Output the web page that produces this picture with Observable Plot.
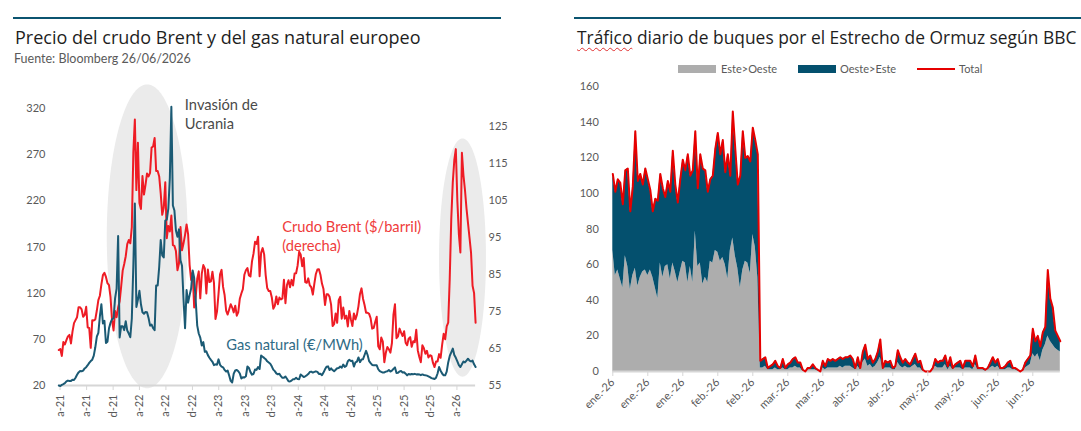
<!DOCTYPE html>
<html lang="es">
<head>
<meta charset="utf-8">
<script src="https://cdn.jsdelivr.net/npm/d3@7"></script>
<script src="https://cdn.jsdelivr.net/npm/@observablehq/plot@0.6"></script>
<style>
  html, body { margin: 0; padding: 0; background: #fff; overflow: hidden; }
  #page { position: relative; width: 1081px; height: 431px; overflow: hidden; font-family: Lato, "Open Sans", sans-serif; }
  .rule { position: absolute; top: 17px; height: 2px; background: #0b5470; }
  .title { position: absolute; top: 28px; font-family: "Open Sans", Lato, sans-serif; font-size: 18px; line-height: 1; color: #1e1e1e; white-space: nowrap; }
  .sub { position: absolute; top: 53px; font-size: 12.5px; line-height: 1; color: #5a5a5a; white-space: nowrap; }
  .sq { text-decoration: underline wavy #e03030; text-decoration-thickness: 1px; text-underline-offset: 3px; }
  .leg-sw { position: absolute; top: 65px; width: 38px; height: 8px; }
  .leg-tx { position: absolute; top: 63px; font-size: 11px; line-height: 1; color: #5a5a5a; white-space: nowrap; }
  .chart { position: absolute; top: 80px; }
</style>
</head>
<body>
<div id="page">
  <div class="rule" style="left:13px;width:488px"></div>
  <div class="title" style="left:15px">Precio del crudo Brent y del gas natural europeo</div>
  <div class="sub" style="left:14px">Fuente: Bloomberg 26/06/2026</div>
  <div id="izq" class="chart" style="left:0"></div>

  <div class="rule" style="left:574px;width:520px"></div>
  <div class="title" style="left:577px;top:28.5px;font-size:17.4px"><span class="sq">Tráfico</span> diario de buques por el Estrecho de Ormuz según BBC</div>
  <div class="leg-sw" style="left:678px;background:#adadad"></div>
  <div class="leg-tx" style="left:721px">Este&gt;Oeste</div>
  <div class="leg-sw" style="left:798px;background:#04506e"></div>
  <div class="leg-tx" style="left:840px">Oeste&gt;Este</div>
  <div class="leg-sw" style="left:917px;top:68px;height:2px;background:#e60000"></div>
  <div class="leg-tx" style="left:959px">Total</div>
  <div id="der" class="chart" style="left:560px"></div>
</div>
<script>
// ---------- Precio del Brent ($/barril), cierres semanales (viernes) desde 26/03/2021 ----------
const brent2021 = [64.6,
  64.9, 63.0, 66.8, 66.1, 67.3,
  68.3, 68.7, 66.4, 69.6,
  71.9, 72.7, 73.5, 76.2,
  76.2, 75.6, 73.6, 74.1, 76.3,
  70.7, 70.6, 65.2, 72.7,
  72.6, 72.9, 75.3, 78.1,
  79.3, 82.4, 84.9, 85.5, 84.4,
  82.7, 82.2, 78.9, 72.7,
  69.9, 75.2, 73.5, 76.1, 77.8];
const brent2022 = [
  81.8, 86.1, 87.9, 90.0,
  93.3, 94.4, 93.5, 97.9,
  118.1, 127.0, 107.9, 120.7,
  104.4, 102.8, 111.7, 106.7, 109.3,
  112.4, 111.6, 112.6, 119.4,
  119.7, 122.0, 113.1, 113.1,
  111.6, 107.0, 101.2, 103.2, 110.0,
  94.9, 98.2, 96.7, 101.0,
  93.0, 92.8, 91.4, 86.2, 88.0,
  97.9, 91.6, 93.5, 95.8,
  98.6, 96.0, 87.6, 83.6,
  85.6, 76.1, 79.0, 83.9, 85.9];
const brent2023 = [
  78.6, 85.3, 87.6, 86.7,
  79.9, 86.4, 83.0, 83.2,
  85.8, 82.8, 73.0, 75.0, 79.8,
  85.1, 86.3, 81.7, 79.5,
  75.3, 74.2, 75.6, 77.0,
  76.1, 74.8, 76.6, 73.9, 74.9,
  78.5, 79.9, 81.1, 85.0,
  86.2, 86.8, 84.8, 84.5,
  88.6, 90.7, 93.9, 93.3, 95.3,
  84.6, 90.9, 92.2, 90.5,
  84.9, 81.4, 80.6, 80.6,
  78.9, 75.8, 76.6, 79.1, 77.0];
const brent2024 = [
  78.8, 78.3, 78.6, 83.6,
  77.3, 82.2, 83.5, 81.6,
  83.6, 82.1, 85.3, 85.4, 87.5,
  91.2, 90.5, 87.3, 89.5,
  83.0, 82.8, 84.0, 82.1, 81.6,
  79.6, 82.6, 85.2, 86.4,
  86.5, 85.0, 82.6, 81.1,
  76.8, 79.7, 79.7, 79.0, 76.9,
  71.1, 71.6, 74.5, 72.0,
  78.1, 79.0, 73.1, 76.1,
  73.1, 73.9, 71.0, 75.2, 72.9,
  71.1, 74.5, 72.9, 74.2];
const brent2025 = [
  76.5, 79.8, 81.3, 78.5, 76.8,
  74.7, 74.7, 74.4, 73.2,
  70.4, 70.6, 72.2, 73.6,
  65.6, 64.8, 68.0, 66.9,
  61.3, 63.9, 65.4, 64.8, 63.9,
  66.5, 74.2, 77.0, 67.8,
  68.3, 70.4, 69.3, 68.4,
  69.7, 66.6, 65.9, 67.7, 68.1,
  65.5, 67.0, 66.7, 70.1,
  64.5, 62.7, 61.3, 65.9, 65.1,
  63.6, 64.4, 62.6, 63.2,
  63.0, 61.1, 60.0, 61.5];
const brent2026 = [
  61.5, 63.5, 62.5, 66.0, 69.0,
  67.5, 71.0, 72.0, 84.0,
  100.0, 110.0, 116.0, 119.0,
  105.0, 96.0, 91.0, 118.0,
  112.0, 108.0, 103.0, 99.0, 95.0,
  91.0, 82.0, 80.0, 72.0];

// ---------- Gas natural TTF (€/MWh), mismas fechas ----------
const gas2021 = [20.0,
  19.5, 20.7, 21.5, 22.5, 24.4,
  25.3, 24.9, 25.0, 26.3,
  26.0, 28.4, 31.6, 34.2,
  35.6, 35.4, 36.1, 38.5, 39.8,
  42.0, 44.5, 46.5, 48.0,
  52.4, 61.4, 73.0, 77.0,
  95.0, 108.0, 87.2, 90.0, 66.0,
  67.4, 82.0, 87.8, 91.8,
  93.0, 114.3, 125.0, 182.0, 72.0];
const gas2022 = [
  84.3, 84.2, 80.0, 89.6,
  79.5, 76.3, 72.3, 92.6,
  150.0, 217.0, 105.0, 112.9,
  122.5, 108.0, 99.3, 97.7, 99.6,
  99.3, 93.2, 84.8, 85.9,
  82.2, 80.0, 128.4, 128.4,
  148.3, 177.5, 161.0, 158.7, 198.7,
  199.7, 211.5, 244.6, 322.0,
  215.0, 209.5, 187.9, 181.0, 189.1,
  155.5, 149.7, 113.2, 82.0,
  123.4, 109.7, 117.9, 125.0,
  144.5, 136.4, 112.2, 84.9, 76.3];
const gas2023 = [
  71.9, 63.3, 67.0, 56.5,
  57.0, 52.9, 50.1, 47.8,
  45.7, 42.1, 42.9, 42.5, 48.3,
  42.4, 40.5, 39.7, 36.9,
  35.1, 36.1, 30.8, 25.0,
  23.3, 32.8, 36.3, 36.9, 35.4,
  33.0, 27.6, 29.0, 28.7,
  30.0, 40.6, 39.0, 34.5,
  31.8, 32.5, 37.3, 36.9, 40.0,
  37.8, 52.5, 51.2, 49.9,
  48.5, 46.2, 44.9, 43.6,
  40.8, 37.2, 35.6, 33.1, 32.1];
const gas2024 = [
  32.7, 30.1, 28.3, 28.3,
  29.8, 27.3, 24.6, 24.4,
  25.3, 26.9, 26.9, 28.4, 26.9,
  26.7, 32.0, 30.6, 29.1,
  30.0, 31.0, 32.4, 34.6, 35.0,
  34.0, 34.7, 35.3, 34.7,
  32.5, 32.7, 31.2, 34.0,
  37.5, 40.3, 40.7, 36.8, 38.6,
  36.7, 35.4, 37.0, 38.7,
  39.0, 40.5, 39.4, 42.7,
  40.2, 41.2, 46.3, 47.8, 46.6,
  46.9, 40.5, 45.0, 45.8];
const gas2025 = [
  50.4, 45.3, 48.1, 48.5, 53.0,
  57.5, 53.0, 46.4, 44.2,
  42.3, 42.0, 42.0, 41.9,
  37.6, 35.5, 34.7, 34.0,
  34.1, 35.0, 35.4, 36.7, 35.1,
  36.0, 38.0, 39.6, 33.5,
  33.7, 35.2, 35.6, 34.1,
  34.4, 32.8, 31.0, 32.5, 32.0,
  32.5, 32.3, 32.6, 32.0,
  32.3, 32.0, 31.2, 32.0, 31.4,
  31.0, 30.7, 29.9, 29.0,
  28.0, 27.5, 27.0, 28.5];
const gas2026 = [
  33, 40, 36, 33, 31,
  31, 35, 45, 52,
  56, 60, 53, 50,
  46, 42, 40, 43,
  46, 45, 47, 49, 47,
  46, 47, 43, 40];

// Ejes del gráfico de precios
const ticksFechaIzq = ["2021-04-01","2021-08-01","2021-12-01","2022-04-01","2022-08-01","2022-12-01",
  "2023-04-01","2023-08-01","2023-12-01","2024-04-01","2024-08-01","2024-12-01",
  "2025-04-01","2025-08-01","2025-12-01","2026-04-01"];
const ticksGas = [20, 70, 120, 170, 220, 270, 320];
const ticksBrent = [55, 65, 75, 85, 95, 105, 115, 125];

// Zonas sombreadas (centro, semiancho en días, centro y semialto en €/MWh)
const zonaCentro = ["2022-05-09", "2026-04-29"];
const zonaSemiancho = [186, 108];
const zonaValor = [181, 158];
const zonaSemialto = [164.5, 129];

// Rótulos
const rotulos = [
  {fecha: "2022-10-27", valor: 332, texto: "Invasión de\nUcrania", color: "#4a4a4a"},
  {fecha: "2024-01-18", valor: 200, texto: "Crudo Brent ($/barril)\n(derecha)", color: "#ef3b3b"},
  {fecha: "2023-05-06", valor: 72.7, texto: "Gas natural (€/MWh)", color: "#2f6b86"}
];

// ---------- Tráfico diario por el Estrecho de Ormuz (buques/día), desde 01/01/2026 ----------
const totalBuques = [
  111,101,108,106,94,113,114,90,104,135,
  107,111,105,114,108,102,90,97,96,111,
  103,98,107,101,124,105,95,108,119,113,
  122,110,113,135,103,122,114,113,101,108,
  110,125,134,122,130,112,122,110,146,125,
  105,110,135,120,121,118,137,130,122,
  6,7,8,2,3,4,6,3,2,7,2,4,5,7,8,5,5,1,0,2,2,4,2,1,
  0,6,3,7,6,7,6,7,8,7,
  8,8,9,7,2,8,2,11,15,7,
  9,5,7,11,18,2,6,5,6,2,
  3,12,8,5,7,5,4,7,10,5,
  6,1,0,0,0,2,7,5,6,6,
  9,3,8,2,4,5,6,2,6,6,
  6,3,9,2,2,2,1,2,5,8,
  5,7,2,2,3,5,6,2,2,1,
  0,1,5,7,9,
  24,17,20,14,22,25,57,41,36,23,20,17];
const esteOeste = [
  68,54,57,52,47,65,59,46,54,58,
  48,53,56,57,54,57,53,47,41,61,
  53,59,60,52,61,56,50,56,62,61,
  50,59,50,79,59,61,49,53,50,62,
  61,68,67,62,64,60,52,68,75,65,
  58,47,57,62,61,55,77,70,53,
  2,2,3,1,1,1,2,1,1,2,1,1,2,2,3,2,2,0,0,1,1,1,1,0,
  0,2,1,2,2,2,2,2,3,2,
  3,3,3,2,1,3,1,5,7,3,
  4,2,3,5,8,1,2,2,2,1,
  1,5,3,2,3,2,2,3,4,2,
  2,0,0,0,0,1,3,2,2,2,
  4,1,3,1,2,2,2,1,2,2,
  2,1,4,1,1,1,0,1,2,3,
  2,3,1,1,1,2,2,1,1,0,
  0,0,2,3,4,
  10,8,10,6,12,15,20,17,15,13,12,11];
const ticksFechaDer = ["2026-01-01","2026-01-15","2026-01-29","2026-02-12","2026-02-26","2026-03-12",
  "2026-03-26","2026-04-09","2026-04-23","2026-05-07","2026-05-21","2026-06-04","2026-06-18"];
const ticksBuques = [0, 20, 40, 60, 80, 100, 120, 140, 160];
const series = ["Este>Oeste", "Oeste>Este"];

// ---------- Preparación ----------
const DIA = 864e5;
const ROJO = "#ee1c25", AZUL = "#1b5a74", GRIS = "#595959";
const iniPrecios = Date.UTC(2021, 2, 26);
const brent = [...brent2021, ...brent2022, ...brent2023, ...brent2024, ...brent2025, ...brent2026];
const gas = [...gas2021, ...gas2022, ...gas2023, ...gas2024, ...gas2025, ...gas2026];
const semanas = brent.map((b, i) => ({fecha: new Date(iniPrecios + 7 * i * DIA), brent: b, gas: gas[i]}));

// el Brent (eje derecho, 55–130) se lleva a la escala del gas (20–320)
const aGas = b => 20 + (b - 55) * 4;
const deGas = v => Math.round(55 + (v - 20) / 4);

const iniciales = "efmamjjasond";
const fmtIzq = d => iniciales[d.getUTCMonth()] + "-" + String(d.getUTCFullYear()).slice(2);
const meses = ["ene.","feb.","mar.","abr.","may.","jun.","jul.","ago.","sep.","oct.","nov.","dic."];
const fmtDer = d => meses[d.getUTCMonth()] + "-" + String(d.getUTCFullYear()).slice(2);

function zona(i) {
  const c = Date.parse(zonaCentro[i]);
  return d3.range(0, 181, 2).map(g => {
    const a = g * Math.PI / 180;
    const h = zonaSemialto[i] * Math.sin(a);
    return {fecha: new Date(c + zonaSemiancho[i] * Math.cos(a) * DIA), y1: zonaValor[i] - h, y2: zonaValor[i] + h};
  });
}

const estilo = {fontFamily: "Lato, 'Open Sans', sans-serif", fontSize: "11px", color: GRIS, background: "transparent", overflow: "visible"};

const izq = Plot.plot({
  width: 520, height: 351,
  marginLeft: 58.3, marginRight: 44.9, marginTop: 28, marginBottom: 46,
  style: estilo,
  x: {type: "utc", domain: [new Date(iniPrecios), new Date(Date.UTC(2026, 5, 26))]},
  y: {domain: [20, 320]},
  marks: [
    Plot.areaY(zona(0), {x: "fecha", y1: "y1", y2: "y2", fill: "#ebebeb"}),
    Plot.areaY(zona(1), {x: "fecha", y1: "y1", y2: "y2", fill: "#ebebeb"}),
    Plot.ruleY([20], {stroke: "#d6d6d6", strokeWidth: 2}),
    Plot.axisX(ticksFechaIzq.map(s => new Date(s)), {tickFormat: fmtIzq, tickRotate: -90, tickSize: 5, tickPadding: 4,
      stroke: "#d6d6d6", fill: GRIS, fontSize: 11, label: null}),
    Plot.axisY(ticksGas, {anchor: "left", tickSize: 0, tickPadding: 13.3, fill: GRIS, fontSize: 11, label: null}),
    Plot.axisY(ticksBrent.map(aGas), {anchor: "right", tickSize: 0, tickPadding: 12.9, tickFormat: deGas,
      fill: GRIS, fontSize: 11, label: null}),
    Plot.lineY(semanas, {x: "fecha", y: d => aGas(d.brent), stroke: ROJO, strokeWidth: 2}),
    Plot.lineY(semanas, {x: "fecha", y: "gas", stroke: AZUL, strokeWidth: 2}),
    Plot.text(rotulos, {x: d => new Date(d.fecha), y: "valor", text: "texto", fill: "color",
      textAnchor: "start", lineAnchor: "top", lineHeight: 1.25, fontSize: 14.7})
  ]
});
document.getElementById("izq").append(izq);

const iniBuques = Date.UTC(2026, 0, 1);
const dias = totalBuques.map((t, d) => ({fecha: new Date(iniBuques + d * DIA), total: t, eo: esteOeste[d], oe: t - esteOeste[d]}));
const capas = [
  ...dias.map(d => ({fecha: d.fecha, serie: series[0], valor: d.eo})),
  ...dias.map(d => ({fecha: d.fecha, serie: series[1], valor: d.oe}))
];

const der = Plot.plot({
  width: 521, height: 351,
  marginLeft: 52.3, marginRight: 21.2, marginTop: 6.2, marginBottom: 60,
  style: estilo,
  x: {type: "utc", domain: [new Date(iniBuques), new Date(iniBuques + 179 * DIA)]},
  y: {domain: [0, 160]},
  color: {domain: series, range: ["#adadad", "#04506e"]},
  marks: [
    Plot.areaY(capas, {x: "fecha", y: "valor", fill: "serie"}),
    Plot.ruleY([0], {stroke: "#d6d6d6", strokeWidth: 2}),
    Plot.lineY(dias, {x: "fecha", y: "total", stroke: "#e60000", strokeWidth: 2}),
    Plot.axisX(ticksFechaDer.map(s => new Date(s)), {tickFormat: fmtDer, tickRotate: -45, tickSize: 5, tickPadding: 4,
      stroke: "#d6d6d6", fill: GRIS, fontSize: 11, label: null}),
    Plot.axisY(ticksBuques, {anchor: "left", tickSize: 0, tickPadding: 14, fill: GRIS, fontSize: 11, label: null})
  ]
});
document.getElementById("der").append(der);
</script>
</body>
</html>
